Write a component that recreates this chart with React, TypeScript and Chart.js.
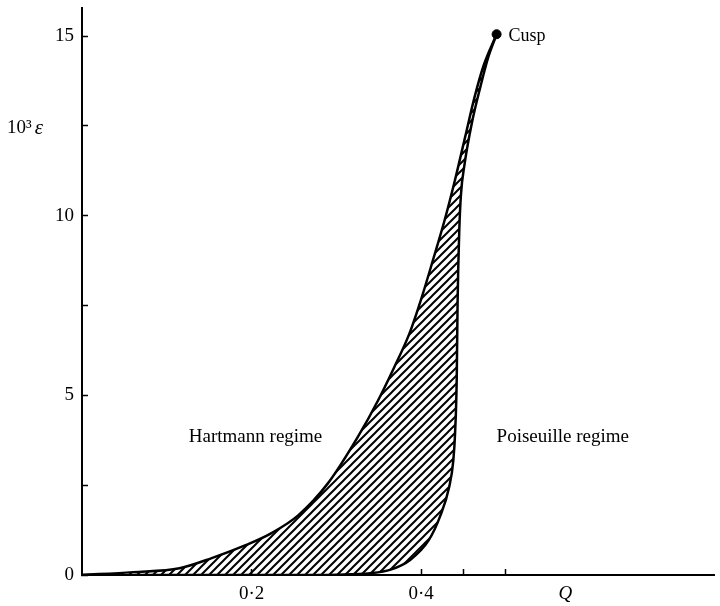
import React, { useEffect, useRef } from "react";
import { Chart, registerables } from "chart.js";

Chart.register(...registerables);

// Hartmann-side boundary (upper/left curve): Q, 10^3 epsilon
const hartmannQ = [0, 0.06, 0.115, 0.153, 0.193, 0.223, 0.255, 0.29, 0.325, 0.349, 0.368, 0.386, 0.401, 0.415, 0.428, 0.44, 0.452, 0.463, 0.474, 0.489];
const hartmannEps = [0, 0.08, 0.19, 0.47, 0.83, 1.16, 1.66, 2.55, 3.83, 4.85, 5.77, 6.71, 7.75, 8.85, 9.9, 11.0, 12.2, 13.3, 14.2, 15.05];

// Poiseuille-side boundary (lower/right curve)
const poiseuilleQ = [0, 0.25, 0.3, 0.34, 0.364, 0.387, 0.409, 0.422, 0.433, 0.438, 0.44, 0.442, 0.443, 0.445, 0.447, 0.451, 0.46, 0.47, 0.479, 0.489];
const poiseuilleEps = [0, 0, 0.01, 0.05, 0.15, 0.42, 0.97, 1.61, 2.44, 3.2, 3.94, 5.5, 7.6, 9.6, 10.6, 11.4, 12.6, 13.6, 14.4, 15.05];

// Cusp point
const cuspQ = [0.489];
const cuspEps = [15.05];

// Axis ticks
const xTickValues = [0.2, 0.4, 0.45, 0.5, 0.57];
const xTickLabels = ["0·2", "0·4", "", "", "Q"];
const yTickValues = [0, 2.5, 5, 7.5, 10, 12.5, 15];
const yTickLabels = ["0", "", "5", "", "10", "", "15"];

// Text annotations
const noteTexts = ["Cusp", "Hartmann regime", "Poiseuille regime"];
const noteQ = [0.503, 0.126, 0.489];
const noteEps = [15.0, 3.83, 3.83];
const noteSizes = [18, 19, 19];
const yTitleMain = "10³";
const yTitleSymbol = "ε";
const yTitleEps = 12.45;

const FONT = "'Liberation Serif', 'DejaVu Serif', serif";

function makeHatch(): CanvasPattern | string {
  const c = document.createElement("canvas");
  c.width = 8;
  c.height = 8;
  const g = c.getContext("2d");
  if (!g) return "#000";
  g.strokeStyle = "#000";
  g.lineWidth = 2;
  g.beginPath();
  g.moveTo(0, 8);
  g.lineTo(8, 0);
  g.moveTo(-2, 2);
  g.lineTo(2, -2);
  g.moveTo(6, 10);
  g.lineTo(10, 6);
  g.stroke();
  return g.createPattern(c, "repeat") || "#000";
}

const textPlugin = {
  id: "texts",
  afterDraw(chart: any) {
    const ctx = chart.ctx as CanvasRenderingContext2D;
    const xs = chart.scales.x;
    const ys = chart.scales.y;
    ctx.save();
    ctx.fillStyle = "#000";
    ctx.textBaseline = "middle";
    ctx.textAlign = "left";
    noteTexts.forEach((t, i) => {
      ctx.font = `${noteSizes[i]}px ${FONT}`;
      ctx.fillText(t, xs.getPixelForValue(noteQ[i]), ys.getPixelForValue(noteEps[i]));
    });
    const ty = ys.getPixelForValue(yTitleEps);
    ctx.font = `19px ${FONT}`;
    ctx.fillText(yTitleMain, 7, ty);
    const w = ctx.measureText(yTitleMain).width;
    ctx.font = `italic 21px ${FONT}`;
    ctx.fillText(yTitleSymbol, 7 + w + 3, ty + 1);
    ctx.restore();
  },
};

export default function App() {
  const ref = useRef<HTMLCanvasElement | null>(null);

  useEffect(() => {
    document.body.style.margin = "0";
    if (!ref.current) return;
    const hatch = makeHatch();
    const chart = new Chart(ref.current, {
      type: "line",
      data: {
        datasets: [
          {
            data: hartmannQ.map((q, i) => ({ x: q, y: hartmannEps[i] })),
            borderColor: "#000",
            borderWidth: 2.5,
            backgroundColor: hatch as any,
            fill: 1,
            pointRadius: 0,
            cubicInterpolationMode: "monotone",
          },
          {
            data: poiseuilleQ.map((q, i) => ({ x: q, y: poiseuilleEps[i] })),
            borderColor: "#000",
            borderWidth: 2.5,
            fill: false,
            pointRadius: 0,
            cubicInterpolationMode: "monotone",
          },
          {
            data: cuspQ.map((q, i) => ({ x: q, y: cuspEps[i] })),
            showLine: false,
            pointRadius: 4.5,
            pointBackgroundColor: "#000",
            pointBorderColor: "#000",
            fill: false,
          },
        ],
      },
      options: {
        animation: false,
        responsive: false,
        maintainAspectRatio: false,
        layout: { padding: { top: 8, right: 0, left: 0, bottom: 0 } },
        plugins: {
          legend: { display: false },
          tooltip: { enabled: false },
          filler: { drawTime: "beforeDatasetsDraw" } as any,
        },
        scales: {
          x: {
            type: "linear",
            min: 0,
            max: 0.746,
            afterBuildTicks: (s: any) => {
              s.ticks = xTickValues.map((v) => ({ value: v }));
            },
            afterFit: (s: any) => {
              s.height = 31;
              s.paddingLeft = 0;
              s.paddingRight = 0;
            },
            ticks: {
              autoSkip: false,
              maxRotation: 0,
              padding: 14,
              color: "#000",
              font: (c: any) => ({
                family: FONT,
                size: 19,
                style: xTickLabels[c.index] === "Q" ? "italic" : "normal",
              }),
              callback: (v: any, i: number) => xTickLabels[i] ?? "",
            },
            grid: {
              drawOnChartArea: false,
              tickLength: -6,
              tickWidth: 1.5,
              tickColor: (c: any) => (xTickLabels[c.index] === "Q" ? "rgba(0,0,0,0)" : "#000"),
            },
            border: { color: "#000", width: 2 },
          },
          y: {
            type: "linear",
            min: 0,
            max: 15.78,
            afterBuildTicks: (s: any) => {
              s.ticks = yTickValues.map((v) => ({ value: v }));
            },
            afterFit: (s: any) => {
              s.width = 82;
              s.paddingTop = 0;
              s.paddingBottom = 0;
            },
            ticks: {
              autoSkip: false,
              padding: 14,
              color: "#000",
              font: { family: FONT, size: 19 },
              callback: (v: any, i: number) => yTickLabels[i] ?? "",
            },
            grid: {
              drawOnChartArea: false,
              tickLength: -6,
              tickWidth: 1.5,
              tickColor: "#000",
            },
            border: { color: "#000", width: 2 },
          },
        },
      },
      plugins: [textPlugin],
    });
    return () => chart.destroy();
  }, []);

  return <canvas ref={ref} width={720} height={606} style={{ display: "block" }} />;
}
